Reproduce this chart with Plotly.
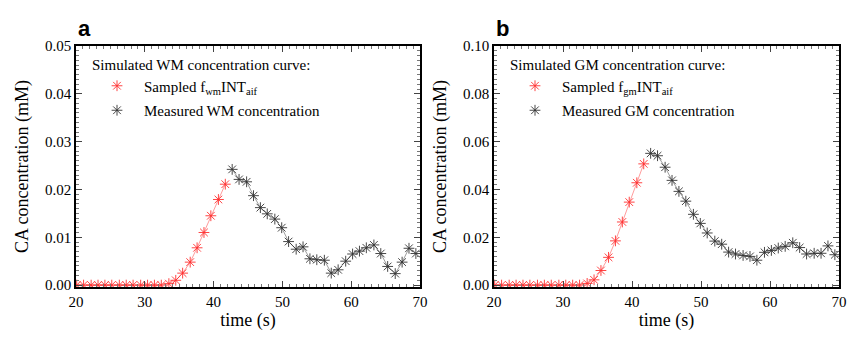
import plotly.graph_objects as go

time_red = [20.1, 21.1, 22.2, 23.2, 24.2, 25.2, 26.3, 27.3, 28.3, 29.4, 30.4,
            31.4, 32.4, 33.5, 34.5, 35.5, 36.6, 37.6, 38.6, 39.6, 40.7, 41.7]
time_black = [42.7, 43.7, 44.8, 45.8, 46.8, 47.8, 48.9, 49.9, 50.9, 52.0, 53.0,
              54.0, 55.0, 56.1, 57.1, 58.1, 59.2, 60.2, 61.2, 62.2, 63.3, 64.3,
              65.3, 66.4, 67.4, 68.4, 69.4]

wm_sampled = [0, 0, 0, 0, 0, 0, 0, 0, 0, 0, 0, 0, 0, 0.0003,
              0.0010, 0.0025, 0.0048, 0.0078, 0.0110, 0.0145, 0.0179, 0.0211]
wm_measured = [0.0242, 0.0221, 0.0216, 0.0187, 0.0162, 0.0149, 0.0138, 0.0120,
               0.0091, 0.0075, 0.0080, 0.0055, 0.0053, 0.0052, 0.0025, 0.0032,
               0.0050, 0.0065, 0.0071, 0.0078, 0.0084, 0.0066, 0.0039, 0.0024,
               0.0048, 0.0077, 0.0066]

gm_sampled = [0, 0, 0, 0, 0, 0, 0, 0, 0, 0, 0, 0, 0, 0.0007,
              0.0022, 0.0061, 0.0116, 0.0185, 0.0264, 0.0347, 0.0428, 0.0507]
gm_measured = [0.0551, 0.0541, 0.0493, 0.0438, 0.0392, 0.0351, 0.0296, 0.0258,
               0.0218, 0.0184, 0.0171, 0.0138, 0.0130, 0.0124, 0.0120, 0.0104,
               0.0137, 0.0145, 0.0155, 0.0162, 0.0177, 0.0157, 0.0130, 0.0133,
               0.0133, 0.0164, 0.0127]

panels = [
    dict(tissue="WM", sub="wm", sampled=wm_sampled, measured=wm_measured,
         ymax=0.05, dtick=0.01, minor=0.001, label="a"),
    dict(tissue="GM", sub="gm", sampled=gm_sampled, measured=gm_measured,
         ymax=0.10, dtick=0.02, minor=0.002, label="b"),
]

RED = "#ff3030"
BLACK = "#333333"
SERIF = "Liberation Serif, Times New Roman, serif"

# the page body adds an 8px margin; size the figure to fit the 861x337 window
OFF = 8
W, H = 861 - OFF, 337 - OFF


def px(v):
    return (v - OFF) / W


def py(v):
    return 1 - (v - OFF) / H


xdom = [(px(76), px(420)), (px(494), px(839))]
ydom = (py(287), py(46))

fig = go.Figure()
for i, p in enumerate(panels):
    n = "" if i == 0 else str(i + 1)
    xa, ya = "x" + n, "y" + n
    leg = "legend" + n
    for k, (t, v, col, name) in enumerate([
        (time_red, p["sampled"], RED,
         f"Sampled f<sub>{p['sub']}</sub>INT<sub>aif</sub>"),
        (time_black, p["measured"], BLACK, f"Measured {p['tissue']} concentration"),
    ]):
        fig.add_trace(go.Scatter(x=t, y=v, mode="lines", xaxis=xa, yaxis=ya,
                                 line=dict(color=col, width=0.6),
                                 opacity=0.8,
                                 showlegend=False, hoverinfo="skip"))
        fig.add_trace(go.Scatter(x=t, y=v, mode="markers", xaxis=xa, yaxis=ya,
                                 name=name, legend=leg,
                                 legendgroup=f"g{i}{k}",
                                 marker=dict(symbol="asterisk-open", size=9,
                                             color=col,
                                             line=dict(color=col, width=0.9))))
    axstyle = dict(showline=True, linecolor="black", linewidth=1.5, mirror="allticks",
                   ticks="inside", ticklen=6, tickcolor="#444", tickwidth=1,
                   showgrid=False, zeroline=False, automargin=False,
                   tickfont=dict(family=SERIF, size=15, color="black"))
    fig.layout["xaxis" + n] = dict(
        domain=xdom[i], range=[20, 70], dtick=10, tick0=0, anchor=ya,
        title=dict(text="time (s)", font=dict(family=SERIF, size=18, color="black"),
                   standoff=0),
        minor=dict(dtick=1, ticks="inside", ticklen=3, tickcolor="#777"),
        **axstyle)
    fig.layout["yaxis" + n] = dict(
        domain=ydom, range=[-0.0004 * p["ymax"] / 0.05, p["ymax"]], dtick=p["dtick"],
        tickformat=".2f", anchor=xa,
        title=dict(text="CA concentration (mM)",
                   font=dict(family=SERIF, size=18, color="black"), standoff=12),
        minor=dict(dtick=p["minor"], ticks="inside", ticklen=3, tickcolor="#777"),
        **axstyle)
    fig.layout[leg] = dict(
        x=xdom[i][0] + 14 / W, y=py(50), xanchor="left", yanchor="top",
        bgcolor="rgba(0,0,0,0)", borderwidth=0,
        title=dict(text=f"Simulated {p['tissue']} concentration curve:",
                   font=dict(family=SERIF, size=15, color="black"), side="top"),
        font=dict(family=SERIF, size=15, color="black"),
        tracegroupgap=2, itemwidth=44)
    fig.add_annotation(text=f"<b>{p['label']}</b>", xref="paper", yref="paper",
                       x=xdom[i][0], y=py(28), xanchor="left",
                       yanchor="middle", showarrow=False,
                       font=dict(family="Liberation Sans, Arial, sans-serif",
                                 size=22, color="black"))

fig.update_layout(width=W, height=H, margin=dict(l=0, r=0, t=0, b=0),
                  plot_bgcolor="white", paper_bgcolor="white")
fig.write_html("out.html")
